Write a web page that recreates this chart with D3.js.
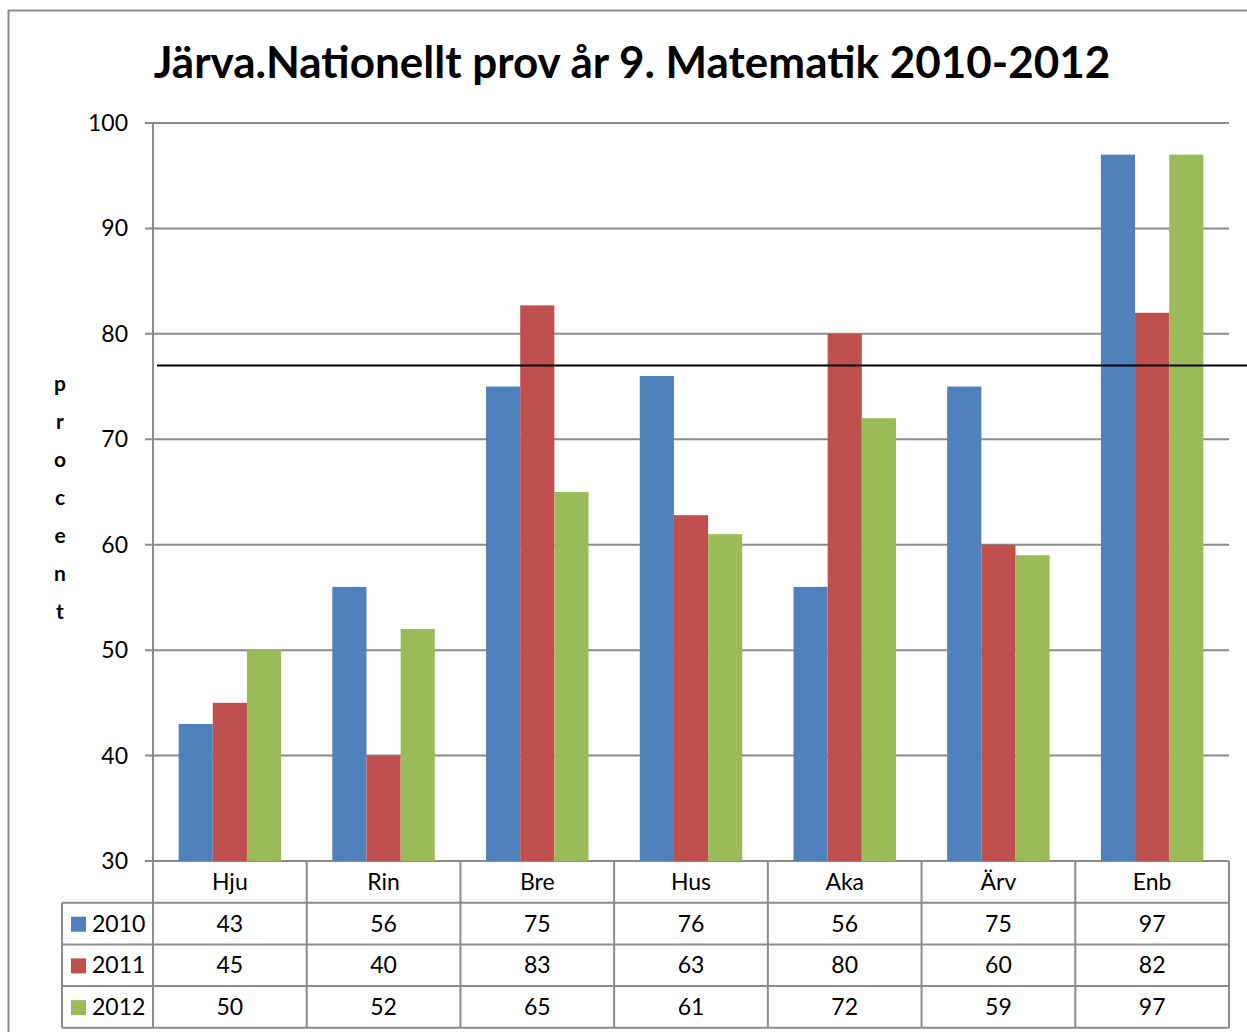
<!DOCTYPE html>
<html>
<head>
<meta charset="utf-8">
<script src="https://cdn.jsdelivr.net/npm/d3@7"></script>
<style>
  body { margin: 0; background: #fff; }
  text { font-family: Lato, "Open Sans", sans-serif; }
</style>
</head>
<body>
<div id="chart"></div>
<script>
"use strict";

// data
const categories = ['Hju', 'Rin', 'Bre', 'Hus', 'Aka', 'Ärv', 'Enb'];
const years = ['2010', '2011', '2012'];
const values2010 = [43, 56, 75, 76, 56, 75, 97];
const values2011 = [45, 40, 82.7, 62.8, 80, 60, 82];
const values2012 = [50, 52, 65, 61, 72, 59, 97];
const yTicks = [30, 40, 50, 60, 70, 80, 90, 100];
const refValue = 77;
const colors = ['#4F81BD', '#C0504D', '#9BBB59'];

const series = [values2010, values2011, values2012];

const W = 1247, H = 1032;
const plot = { left: 153, right: 1229, top: 123, bottom: 861 };

const svg = d3.select('#chart').append('svg').attr('width', W).attr('height', H);

// outer frame
svg.append('rect').attr('x', 8.5).attr('y', 10.5).attr('width', W + 20).attr('height', H + 20)
   .attr('fill', 'none').attr('stroke', '#8c8c8c').attr('stroke-width', 2);

svg.append('text').attr('x', 632).attr('y', 78).attr('text-anchor', 'middle')
   .style('font-size', '44px').style('font-weight', 'bold')
   .text('Järva.Nationellt prov år 9. Matematik 2010-2012');

let x0 = d3.scaleBand().domain(categories).range([plot.left, plot.right]);
let x1 = d3.scaleBand().domain(years).range([0, x0.bandwidth()]).paddingOuter(0.75).paddingInner(0);
let y = d3.scaleLinear().domain([30, 100]).range([plot.bottom, plot.top]);

// gridlines + tick labels
svg.append('g').selectAll('line').data(yTicks).enter().append('line')
   .attr('x1', plot.left - 8).attr('x2', plot.right)
   .attr('y1', d => y(d)).attr('y2', d => y(d))
   .attr('stroke', '#8c8c8c').attr('stroke-width', 2);

svg.append('g').selectAll('text').data(yTicks).enter().append('text')
   .attr('x', 128).attr('y', d => y(d) + 8).attr('text-anchor', 'end')
   .style('font-size', '23px').text(d => d);

// bars
const groups = svg.append('g').selectAll('g').data(categories).enter().append('g')
   .attr('transform', d => `translate(${x0(d)},0)`);

groups.selectAll('rect').data((c, i) => years.map((yr, k) => ({ yr: yr, v: series[k][i], k: k })))
   .enter().append('rect')
   .attr('x', d => x1(d.yr)).attr('width', x1.bandwidth())
   .attr('y', d => y(d.v)).attr('height', d => y(30) - y(d.v))
   .attr('fill', d => colors[d.k]);

// y axis line
svg.append('line').attr('x1', plot.left).attr('x2', plot.left).attr('y1', plot.top).attr('y2', plot.bottom + 42)
   .attr('stroke', '#8c8c8c').attr('stroke-width', 2);

// reference line
svg.append('line').attr('x1', 157).attr('x2', W).attr('y1', y(refValue)).attr('y2', y(refValue))
   .attr('stroke', '#000').attr('stroke-width', 2);

// axis title, one letter per line
svg.append('g').selectAll('text').data('procent'.split('')).enter().append('text')
   .attr('x', 60).attr('y', (d, i) => 391 + i * 38).attr('text-anchor', 'middle')
   .style('font-size', '21px').style('font-weight', 'bold').text(d => d);

// data table
const rowH = 41.7;
const tableTop = plot.bottom;
const legendLeft = 62;
const lineColor = '#8c8c8c';
const table = svg.append('g');

// category header row
table.selectAll('.cat').data(categories).enter().append('text')
   .attr('x', d => x0(d) + x0.bandwidth() / 2).attr('y', tableTop + 29)
   .attr('text-anchor', 'middle').style('font-size', '23px').text(d => d);

// vertical lines
const vx = categories.map(c => x0(c)).concat([plot.right]);
table.selectAll('.vl').data(vx).enter().append('line')
   .attr('x1', d => d).attr('x2', d => d)
   .attr('y1', tableTop).attr('y2', tableTop + rowH * 4)
   .attr('stroke', lineColor).attr('stroke-width', 2);
table.append('line').attr('x1', legendLeft).attr('x2', legendLeft)
   .attr('y1', tableTop + rowH).attr('y2', tableTop + rowH * 4)
   .attr('stroke', lineColor).attr('stroke-width', 2);

// horizontal lines
[1, 2, 3, 4].forEach(r => {
  table.append('line').attr('x1', legendLeft).attr('x2', plot.right)
     .attr('y1', tableTop + rowH * r).attr('y2', tableTop + rowH * r)
     .attr('stroke', lineColor).attr('stroke-width', 2);
});

years.forEach((yr, k) => {
  const cy = tableTop + rowH * (k + 1);
  table.append('rect').attr('x', 71).attr('y', cy + 14).attr('width', 15).attr('height', 15)
     .attr('fill', colors[k]);
  table.append('text').attr('x', 92).attr('y', cy + 29).style('font-size', '23px').text(yr);
  table.selectAll('.v' + k).data(categories).enter().append('text')
     .attr('x', d => x0(d) + x0.bandwidth() / 2).attr('y', cy + 29)
     .attr('text-anchor', 'middle').style('font-size', '23px')
     .text((d, i) => d3.format('.0f')(series[k][i]));
});
</script>
</body>
</html>
